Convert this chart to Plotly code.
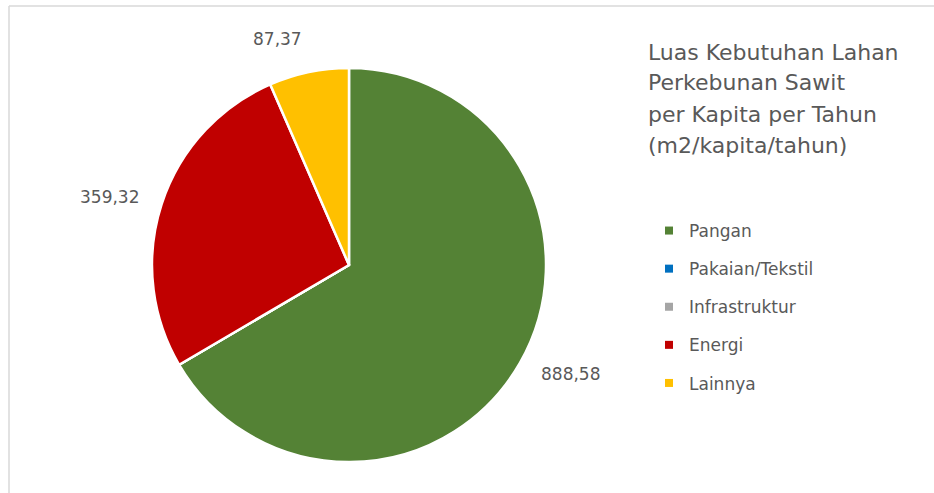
import math
import plotly.graph_objects as go

# Land requirement per capita per year (m2/capita/year) by use
categories = ["Pangan", "Pakaian/Tekstil", "Infrastruktur", "Energi", "Lainnya"]
values = [888.58, 0.0, 0.0, 359.32, 87.37]
colors = ["#548235", "#0070C0", "#A5A5A5", "#C00000", "#FFC000"]

title_lines = [
    "Luas Kebutuhan Lahan",
    "Perkebunan Sawit",
    "per Kapita per Tahun",
    "(m2/kapita/tahun)",
]

W, H = 934, 493
FONT = "DejaVu Sans"
TEXT_COLOR = "#595959"

# pie placement (pixels)
cx, cy, r = 349, 265, 197
dom_x = [(cx - r) / W, (cx + r) / W]
dom_y = [(H - cy - r) / H, (H - cy + r) / H]

fig = go.Figure()
fig.add_trace(go.Pie(
    labels=categories,
    values=values,
    marker=dict(colors=colors, line=dict(color="white", width=2.5)),
    sort=False,
    direction="clockwise",
    rotation=0,
    textinfo="none",
    hoverinfo="label+value",
    showlegend=False,
    domain=dict(x=dom_x, y=dom_y),
))

# legend entries, one group each so the gap between rows can be set
for name, col in zip(categories, colors):
    fig.add_trace(go.Scatter(
        x=[None], y=[None], mode="markers", name=name, legendgroup=name,
        marker=dict(symbol="square", size=8, color=col),
        showlegend=True,
    ))

# value labels just outside each non-empty slice, anchored on the side facing it
total = sum(values)
start = 0.0
annotations = []
for v in values:
    frac = v / total
    if v > 0:
        mid = (start + frac / 2) * 2 * math.pi  # clockwise from 12 o'clock
        s, c = math.sin(mid), math.cos(mid)
        px = cx + 1.11 * r * s
        py = cy - 1.11 * r * c
        xanchor = "left" if s > 0 else "right"
        yanchor = "bottom" if c > 0.9 else ("top" if c < -0.9 else "middle")
        annotations.append(dict(
            x=px / W, y=1 - py / H, xref="paper", yref="paper",
            text=f"{v:.2f}".replace(".", ","), showarrow=False,
            xanchor=xanchor, yanchor=yanchor,
            font=dict(family=FONT, size=17, color=TEXT_COLOR),
        ))
    start += frac

# chart title, one line per annotation
for i, line in enumerate(title_lines):
    annotations.append(dict(
        x=646 / W, y=1 - (52 + i * 31) / H, xref="paper", yref="paper",
        text=line, showarrow=False, xanchor="left", yanchor="middle",
        font=dict(family=FONT, size=22, color=TEXT_COLOR),
    ))

fig.update_layout(
    width=W, height=H,
    margin=dict(l=0, r=0, t=0, b=0),
    paper_bgcolor="white", plot_bgcolor="white",
    xaxis=dict(visible=False), yaxis=dict(visible=False),
    annotations=annotations,
    legend=dict(
        x=649 / W, y=1 - 213 / H, xanchor="left", yanchor="top",
        font=dict(family=FONT, size=17, color=TEXT_COLOR),
        tracegroupgap=13, bgcolor="rgba(0,0,0,0)",
        itemclick=False, itemdoubleclick=False,
    ),
    shapes=[
        dict(type="line", xref="paper", yref="paper",
             x0=9 / W, x1=1, y0=1 - 6 / H, y1=1 - 6 / H,
             line=dict(color="#D9D9D9", width=1.5)),
        dict(type="line", xref="paper", yref="paper",
             x0=9 / W, x1=9 / W, y0=0, y1=1 - 6 / H,
             line=dict(color="#D9D9D9", width=1.5)),
    ],
)

fig.write_html("out.html")
